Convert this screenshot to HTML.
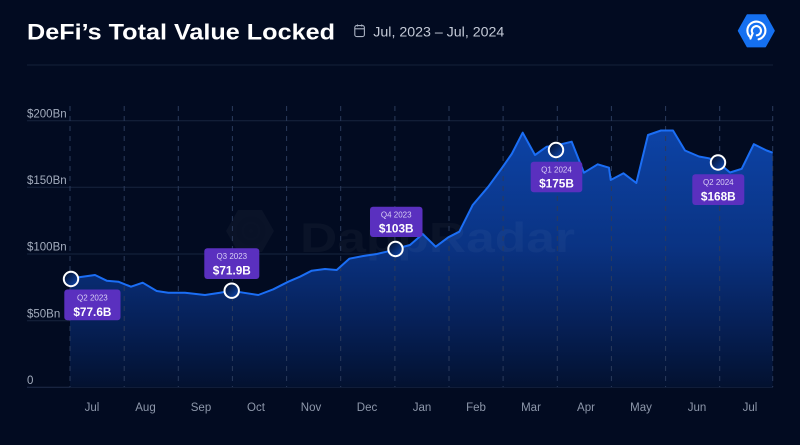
<!DOCTYPE html>
<html>
<head>
<meta charset="utf-8">
<style>
html,body{margin:0;padding:0;background:#020b21;}
svg{display:block;}
</style>
</head>
<body>
<svg width="800" height="445" viewBox="0 0 800 445" xmlns="http://www.w3.org/2000/svg">
<defs>
<linearGradient id="area" x1="0" y1="130" x2="0" y2="388" gradientUnits="userSpaceOnUse">
<stop offset="0" stop-color="#0d43a6"/>
<stop offset="0.45" stop-color="#0a3383"/>
<stop offset="0.75" stop-color="#062057"/>
<stop offset="1" stop-color="#03112f"/>
</linearGradient>
<linearGradient id="dot" x1="0" y1="0" x2="1" y2="1">
<stop offset="0" stop-color="#020b21"/>
<stop offset="1" stop-color="#0f4ab5"/>
</linearGradient>
</defs>
<rect width="800" height="445" fill="#020b21"/>

<!-- Title -->
<text x="27" y="39.3" font-family="Liberation Sans, sans-serif" font-weight="bold" font-size="22" fill="#ffffff" textLength="308" lengthAdjust="spacingAndGlyphs">DeFi’s Total Value Locked</text>

<!-- Calendar icon -->
<g fill="none" stroke="#aab2c2" stroke-width="1.1">
<rect x="354.8" y="25.6" width="9.6" height="11" rx="2"/>
<line x1="354.8" y1="28.8" x2="364.4" y2="28.8"/>
<line x1="357.5" y1="24.5" x2="357.5" y2="26.5"/>
<line x1="361.7" y1="24.5" x2="361.7" y2="26.5"/>
</g>
<text x="373.3" y="36.7" font-family="Liberation Sans, sans-serif" font-size="13.8" fill="#c3c9d6" textLength="131" lengthAdjust="spacingAndGlyphs">Jul, 2023 – Jul, 2024</text>

<!-- Logo -->
<path d="M738.8,30.8 L747.5,15.3 L765.1,15.3 L773.8,30.8 L765.1,46.4 L747.5,46.4 Z" fill="#1570f0" stroke="#1570f0" stroke-width="2" stroke-linejoin="round"/>
<g fill="none" stroke="#ffffff" stroke-width="2.1" stroke-linecap="round">
<path d="M750.3,37.2 A9,9 0 1 1 758.6,39.3"/>
<path d="M752.6,33.3 A4.6,4.6 0 1 1 756.8,35.3"/>
<line x1="752.6" y1="33.3" x2="750.5" y2="38.6"/>
</g>

<!-- separator -->
<line x1="27" y1="65" x2="773" y2="65" stroke="#142039" stroke-width="1"/>

<!-- horizontal grid -->
<g stroke="#17243f" stroke-width="1">
<line x1="27" y1="120.7" x2="773" y2="120.7"/>
<line x1="27" y1="187.3" x2="773" y2="187.3"/>
<line x1="27" y1="254" x2="773" y2="254"/>
<line x1="27" y1="320.7" x2="773" y2="320.7"/>
<line x1="27" y1="387.3" x2="773" y2="387.3" stroke="#1f2d4a"/>
</g>

<!-- area -->
<path fill="url(#area)" d="M70,278.5 L95,275 L106.7,280.7 L118.3,281.7 L131,286.7 L142.7,282.7 L156.7,291 L168.3,292.7 L185,292.7 L205,295 L220,292.7 L231.7,290.7 L243.3,292.7 L258.3,295 L273.3,289.3 L288.3,281.7 L300,276.7 L311.7,270.7 L325,269 L336.7,270 L349.3,258.7 L363.3,256 L376.7,254 L386.7,251.7 L395,249 L410,245 L422.7,234 L435.7,246.7 L448.3,237.3 L459.3,231.7 L472.7,205 L488.3,186.7 L501.7,168.3 L511.7,154 L522.7,132.7 L535,155 L546.7,146.7 L556,145.5 L571.7,141.7 L584,172.7 L597.7,164.3 L609,167.7 L610.7,180 L623.5,173.3 L636.3,183 L648,135 L661,130.5 L673,130.5 L685,150.5 L699,156.5 L709,158.3 L718,162.5 L730,172.5 L741.7,168.8 L753.8,144.2 L766.7,150.5 L772.7,152.7 L772.7,387.3 L70,387.3 Z"/>

<!-- watermark (on top of area) -->
<g opacity="0.035">
<path d="M226,231 L238,210 L262,210 L274,231 L262,252 L238,252 Z" fill="#ffffff"/>
</g>
<g opacity="0.05" fill="none" stroke="#020b21" stroke-width="5">
<circle cx="251" cy="231" r="12"/>
<circle cx="251" cy="231" r="4.5"/>
</g>
<text x="300" y="252" font-family="Liberation Sans, sans-serif" font-weight="bold" font-size="42" fill="#ffffff" fill-opacity="0.035" textLength="275" lengthAdjust="spacingAndGlyphs">DappRadar</text>

<!-- vertical dashed grid -->
<g stroke="#2b3b5c" stroke-width="1" stroke-dasharray="5,5">
<line x1="70" y1="106" x2="70" y2="387"/>
<line x1="124.2" y1="106" x2="124.2" y2="387"/>
<line x1="178.3" y1="106" x2="178.3" y2="387"/>
<line x1="232.4" y1="106" x2="232.4" y2="387"/>
<line x1="286.6" y1="106" x2="286.6" y2="387"/>
<line x1="340.7" y1="106" x2="340.7" y2="387"/>
<line x1="394.9" y1="106" x2="394.9" y2="387"/>
<line x1="449" y1="106" x2="449" y2="387"/>
<line x1="503.1" y1="106" x2="503.1" y2="387"/>
<line x1="557.3" y1="106" x2="557.3" y2="387"/>
<line x1="611.4" y1="106" x2="611.4" y2="387"/>
<line x1="665.6" y1="106" x2="665.6" y2="387"/>
<line x1="719.7" y1="106" x2="719.7" y2="387"/>
<line x1="772.7" y1="106" x2="772.7" y2="387"/>
</g>

<!-- line -->
<path fill="none" stroke="#1b6ef5" stroke-width="2" stroke-linejoin="round" d="M70,278.5 L95,275 L106.7,280.7 L118.3,281.7 L131,286.7 L142.7,282.7 L156.7,291 L168.3,292.7 L185,292.7 L205,295 L220,292.7 L231.7,290.7 L243.3,292.7 L258.3,295 L273.3,289.3 L288.3,281.7 L300,276.7 L311.7,270.7 L325,269 L336.7,270 L349.3,258.7 L363.3,256 L376.7,254 L386.7,251.7 L395,249 L410,245 L422.7,234 L435.7,246.7 L448.3,237.3 L459.3,231.7 L472.7,205 L488.3,186.7 L501.7,168.3 L511.7,154 L522.7,132.7 L535,155 L546.7,146.7 L556,145.5 L571.7,141.7 L584,172.7 L597.7,164.3 L609,167.7 L610.7,180 L623.5,173.3 L636.3,183 L648,135 L661,130.5 L673,130.5 L685,150.5 L699,156.5 L709,158.3 L718,162.5 L730,172.5 L741.7,168.8 L753.8,144.2 L766.7,150.5 L772.7,152.7"/>

<!-- y labels -->
<g font-family="Liberation Sans, sans-serif" font-size="11.5" fill="#a3acbd">
<text x="27" y="117.5">$200Bn</text>
<text x="27" y="184">$150Bn</text>
<text x="27" y="250.7">$100Bn</text>
<text x="27" y="317.3">$50Bn</text>
<text x="27" y="384">0</text>
</g>

<!-- month labels -->
<g font-family="Liberation Sans, sans-serif" font-size="11.5" fill="#8d97aa" text-anchor="middle">
<text x="92" y="411">Jul</text>
<text x="145.5" y="411">Aug</text>
<text x="201" y="411">Sep</text>
<text x="256" y="411">Oct</text>
<text x="311" y="411">Nov</text>
<text x="367" y="411">Dec</text>
<text x="422" y="411">Jan</text>
<text x="476" y="411">Feb</text>
<text x="531" y="411">Mar</text>
<text x="586" y="411">Apr</text>
<text x="641" y="411">May</text>
<text x="697" y="411">Jun</text>
<text x="750" y="411">Jul</text>
</g>

<!-- markers -->
<g fill="url(#dot)" stroke="#ffffff" stroke-width="2">
<circle cx="71" cy="279" r="7.2"/>
<circle cx="231.7" cy="290.7" r="7.2"/>
<circle cx="395.5" cy="249" r="7.2"/>
<circle cx="556" cy="150" r="7.2"/>
<circle cx="718" cy="162.5" r="7.2"/>
</g>

<!-- tooltips -->
<g fill="#5a30bf">
<rect x="64.3" y="289.5" width="56.2" height="30.8" rx="3"/>
<rect x="204.3" y="248.3" width="55" height="30.7" rx="3"/>
<rect x="370" y="206.7" width="52.5" height="30.3" rx="3"/>
<rect x="530.7" y="161.7" width="51.6" height="30.6" rx="3"/>
<rect x="692.3" y="174.3" width="52" height="30.7" rx="3"/>
</g>
<g font-family="Liberation Sans, sans-serif" text-anchor="middle">
<g font-size="8" fill="#d8cff5">
<text x="92.4" y="300.3">Q2 2023</text>
<text x="231.8" y="259">Q3 2023</text>
<text x="396.2" y="217.4">Q4 2023</text>
<text x="556.5" y="172.4">Q1 2024</text>
<text x="718.3" y="185">Q2 2024</text>
</g>
<g font-size="11.8" font-weight="bold" fill="#ffffff">
<text x="92.4" y="316">$77.6B</text>
<text x="231.8" y="274.7">$71.9B</text>
<text x="396.2" y="232.7">$103B</text>
<text x="556.5" y="187.7">$175B</text>
<text x="718.3" y="200.6">$168B</text>
</g>
</g>
</svg>
</body>
</html>
